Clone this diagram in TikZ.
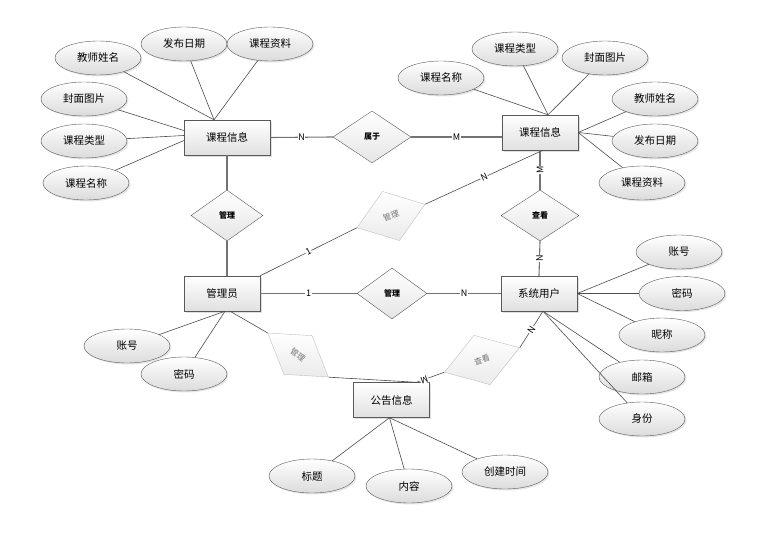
\documentclass[tikz,border=0pt]{standalone}
\usepackage{fontspec}
\setmainfont{Noto Sans CJK SC}
\usetikzlibrary{shapes.geometric,shadows}

\begin{document}
\begin{tikzpicture}[x=1pt,y=-1pt,
    entity/.style={draw=black!65,rectangle,minimum width=76pt,minimum height=35pt,inner sep=0pt,
      top color=white,bottom color=black!12,drop shadow={shadow xshift=1.5pt,shadow yshift=-1.5pt,opacity=0.25},
      font=\fontsize{10.5}{12}\selectfont},
    attr/.style={draw=black!65,ellipse,minimum width=86pt,minimum height=34pt,inner sep=0pt,
      top color=white,bottom color=black!14,drop shadow={shadow xshift=1.5pt,shadow yshift=-1.5pt,opacity=0.2},
      font=\fontsize{10.5}{12}\selectfont},
    rel/.style={draw=black!65,diamond,minimum width=74pt,minimum height=51pt,inner sep=0pt,
      top color=white,bottom color=black!10,font=\fontsize{8}{9}\selectfont\bfseries},
    grel/.style={draw=black!25,diamond,minimum width=74pt,minimum height=51pt,inner sep=0pt,
      top color=white,bottom color=black!8,text=black!55,font=\fontsize{8}{9}\selectfont},
    lbl/.style={fill=white,inner sep=0.6pt,font=\fontsize{9}{10}\selectfont},
    conn/.style={draw=black!70,line width=0.6pt},
    rline/.style={draw=black!55,line width=1.1pt}]
  \useasboundingbox (0,0) rectangle (759,532);

  \node[entity,minimum width=86pt] (lci) at (227,137.5) {课程信息};
  \node[entity] (rci) at (540,132.5) {课程信息};
  \node[entity] (admin) at (222,293.5) {管理员};
  \node[entity] (user) at (539,293.5) {系统用户};
  \node[entity] (notice) at (391.5,400) {公告信息};

  \node[rel,minimum width=78pt,minimum height=52pt] (shuyu) at (372,137) {属于};
  \node[rel,minimum width=72pt] (lmanage) at (227,215.5) {管理};
  \node[rel,minimum width=78pt] (chakan) at (540,215.5) {查看};
  \node[rel,minimum width=70pt] (mmanage) at (392,293.5) {管理};
  \node[grel,rotate=19,minimum width=72pt,minimum height=52pt] (gmanage1) at (391,216) {管理};
  \node[grel,rotate=-36,minimum width=75pt,minimum height=48pt] (gmanage2) at (298,355) {管理};
  \node[grel,rotate=18,minimum width=79pt,minimum height=52pt] (gchakan) at (482,360) {查看};

  \node[attr] (lteach) at (98,58) {教师姓名};
  \node[attr] (ldate) at (184,44) {发布日期};
  \node[attr] (lfile) at (270,44) {课程资料};
  \node[attr] (lcover) at (84,99) {封面图片};
  \node[attr] (ltype) at (84,141) {课程类型};
  \node[attr] (lname) at (86,183) {课程名称};

  \node[attr] (rname) at (441,78) {课程名称};
  \node[attr] (rtype) at (515,49) {课程类型};
  \node[attr] (rcover) at (605,58) {封面图片};
  \node[attr] (rteach) at (655,99) {教师姓名};
  \node[attr] (rdate) at (655,141) {发布日期};
  \node[attr] (rfile) at (642,183) {课程资料};

  \node[attr] (aacc) at (127,346) {账号};
  \node[attr] (apwd) at (184,374) {密码};

  \node[attr] (uacc) at (679,252) {账号};
  \node[attr] (upwd) at (682,293.5) {密码};
  \node[attr] (unick) at (662,335) {昵称};
  \node[attr] (umail) at (642,377) {邮箱};
  \node[attr] (urole) at (642,419) {身份};

  \node[attr] (ntitle) at (312,476) {标题};
  \node[attr] (ncontent) at (409,486) {内容};
  \node[attr] (ntime) at (505,472) {创建时间};

  \foreach \a in {lteach,ldate,lfile}
    \draw[conn] (\a) -- ([xshift=-13pt]lci.north);
  \draw[conn] (lcover) -- ([yshift=7pt]lci.west);
  \draw[conn] (ltype) -- ([yshift=2pt]lci.west);
  \draw[conn] (lname) -- ([yshift=-3pt]lci.west);

  \foreach \a in {rname,rtype,rcover}
    \draw[conn] (\a) -- ([xshift=8pt]rci.north);
  \foreach \a in {rteach,rdate,rfile}
    \draw[conn] (\a) -- (rci.east);

  \foreach \a in {aacc,apwd}
    \draw[conn] (\a) -- ([xshift=3pt]admin.south);
  \foreach \a in {uacc,upwd,unick}
    \draw[conn] (\a) -- (user.east);
  \foreach \a in {umail,urole}
    \draw[conn] (\a) -- ([xshift=4pt]user.south);
  \foreach \a in {ntitle,ncontent,ntime}
    \draw[conn] (\a) -- ([xshift=-2pt]notice.south);

  \draw[rline] (lci.east) -- node[lbl] {N} (shuyu.west);
  \draw[rline] (shuyu.east) -- node[lbl] {M} (shuyu.east -| rci.west);
  \draw[rline] (rci.south) -- node[lbl,rotate=90] {M} (chakan.north);
  \draw[rline] (chakan.south) -- node[lbl,rotate=90] {N} (user.north);
  \draw[rline] (lci.south) -- (lmanage.north);
  \draw[rline] (lmanage.south) -- (lmanage.south |- admin.north);
  \draw[rline] (admin.east) -- node[lbl] {1} (mmanage.west);
  \draw[rline] (mmanage.east) -- node[lbl] {N} (user.west);

  \draw[conn] (admin.north east) -- node[lbl,rotate=27] {1} (gmanage1.west);
  \draw[conn] (gmanage1.east) -- node[lbl,rotate=25] {N} ([xshift=3pt]rci.south);
  \draw[conn] ([xshift=8pt]admin.south) -- (gmanage2.west);
  \draw[conn] (gmanage2.east) -- ([xshift=25pt]notice.north);
  \draw[conn] ([xshift=4pt]user.south) -- node[lbl,rotate=56] {N} (gchakan.east);
  \draw[conn] (gchakan.west) -- node[lbl,pos=0.72,rotate=200] {M} ([xshift=25pt]notice.north);
\end{tikzpicture}
\end{document}
